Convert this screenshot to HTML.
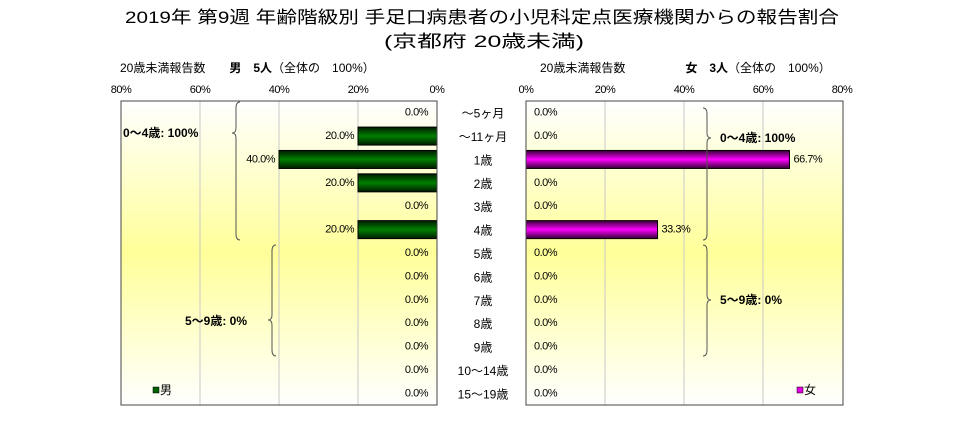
<!DOCTYPE html>
<html><head><meta charset="utf-8"><style>
body{margin:0;background:#fff}
svg{display:block;font-family:"Liberation Sans","Noto Sans CJK JP",sans-serif}
</style></head><body>
<svg id="chart" width="968" height="443" viewBox="0 0 968 443">
<defs>
<linearGradient id="bg" x1="0" y1="0" x2="0" y2="1">
<stop offset="0" stop-color="#ffffff"/><stop offset="0.5" stop-color="#ffff99"/><stop offset="1" stop-color="#ffffff"/></linearGradient>
<linearGradient id="gm" x1="0" y1="0" x2="0" y2="1">
<stop offset="0" stop-color="#001a00"/><stop offset="0.5" stop-color="#008000"/><stop offset="1" stop-color="#001a00"/></linearGradient>
<linearGradient id="gf" x1="0" y1="0" x2="0" y2="1">
<stop offset="0" stop-color="#330033"/><stop offset="0.5" stop-color="#ff00ff"/><stop offset="1" stop-color="#330033"/></linearGradient>
</defs>
<text x="482" y="23" font-size="17" text-anchor="middle" textLength="714" lengthAdjust="spacingAndGlyphs">2019年 第9週 年齢階級別 手足口病患者の小児科定点医療機関からの報告割合</text>
<text x="484" y="47" font-size="17" text-anchor="middle" textLength="200" lengthAdjust="spacingAndGlyphs">(京都府 20歳未満)</text>
<text x="120" y="72" font-size="12">20歳未満報告数　　<tspan font-weight="bold">男　5人</tspan>（全体の　100%）</text>
<text x="540" y="72" font-size="12">20歳未満報告数　　　　　<tspan font-weight="bold">女　3人</tspan>（全体の　100%）</text>
<rect x="121" y="101" width="316" height="304" fill="url(#bg)"/>
<rect x="526" y="101" width="317" height="304" fill="url(#bg)"/>
<g id="layer"></g>
<rect x="121" y="101" width="316" height="304" fill="none" stroke="#444"/>
<rect x="526" y="101" width="317" height="304" fill="none" stroke="#444"/>
<path d="M240,102 q-4,0 -4,6 v20 q0,5 -4,5 q4,0 4,5 v96 q0,6 4,6" fill="none" stroke="#555"/>
<text x="123" y="137" font-size="12" font-weight="bold">0～4歳: 100%</text>
<path d="M276,245 q-4,0 -4,6 v64 q0,5 -4,5 q4,0 4,5 v25 q0,6 4,6" fill="none" stroke="#555"/>
<text x="185" y="325" font-size="12" font-weight="bold">5～9歳: 0%</text>
<path d="M703,108 q4,0 4,6 v19 q0,5 4,5 q-4,0 -4,5 v91 q0,6 -4,6" fill="none" stroke="#555"/>
<text x="720" y="142" font-size="12" font-weight="bold">0～4歳: 100%</text>
<path d="M703,245 q4,0 4,6 v44 q0,5 4,5 q-4,0 -4,5 v45 q0,6 -4,6" fill="none" stroke="#555"/>
<text x="720" y="304" font-size="12" font-weight="bold">5～9歳: 0%</text>
<rect x="153" y="387" width="6" height="6" fill="#006000" stroke="#000" stroke-width="0.5"/>
<text x="160" y="394" font-size="12">男</text>
<rect x="797" y="387" width="6" height="6" fill="#e000e0" stroke="#000" stroke-width="0.5"/>
<text x="804" y="394" font-size="12">女</text>
</svg>
<script>
const categories = ["～5ヶ月","～11ヶ月","1歳","2歳","3歳","4歳","5歳","6歳","7歳","8歳","9歳","10～14歳","15～19歳"];
const maleValues = [0,20,40,20,0,20,0,0,0,0,0,0,0];
const femaleValues = [0,0,66.7,0,0,33.3,0,0,0,0,0,0,0];
const tickValues = [0,20,40,60,80];
const tickLabels = ["0%","20%","40%","60%","80%"];

const NS="http://www.w3.org/2000/svg";
const layer=document.getElementById('layer');
const top0=101, plotH=304, rowH=plotH/categories.length;
const pxPer=316/80;
function xMale(v){return 437 - v*pxPer;}
function xFemale(v){return 526 + v*pxPer;}
function yRow(i){return top0 + rowH*i + rowH/2;}
function mk(tag,attrs){const e=document.createElementNS(NS,tag);for(const k in attrs)e.setAttribute(k,attrs[k]);return e;}

tickValues.forEach((t,i)=>{
  if(t>0 && t<80){
    const g1=mk('line',{x1:xMale(t),x2:xMale(t),y1:101,y2:405,stroke:'#c8c8c8'});
    
    
    layer.appendChild(g1);
    const g2=mk('line',{x1:xFemale(t),x2:xFemale(t),y1:101,y2:405,stroke:'#c8c8c8'});
    
    
    layer.appendChild(g2);
  }
  const a=mk('text',{x:xMale(t),y:93,'font-size':11,'text-anchor':'middle','letter-spacing':'-0.5'});
  a.textContent=tickLabels[i];
  
  
  document.getElementById('chart').appendChild(a);
  const b=mk('text',{x:xFemale(t),y:93,'font-size':11,'text-anchor':'middle','letter-spacing':'-0.5'});
  b.textContent=tickLabels[i];
  
  
  document.getElementById('chart').appendChild(b);
});

categories.forEach((c,i)=>{
  const y=yRow(i);
  const lab=mk('text',{x:483,y:y+5,'font-size':12,'text-anchor':'middle'});
  lab.textContent=c;
  
  
  document.getElementById('chart').appendChild(lab);
  const mv=maleValues[i];
  if(mv>0){
    const r=mk('rect',{x:xMale(mv),y:y-9,width:437-xMale(mv),height:18,fill:'url(#gm)',stroke:'#000'});
    
    
    layer.appendChild(r);
  }
  const mt=mk('text',{x:mv>0?xMale(mv)-4:428,y:y+3,'font-size':11,'text-anchor':'end','letter-spacing':'-0.5'});
  mt.textContent=mv.toFixed(1)+'%';
  
  
  document.getElementById('chart').appendChild(mt);
  const fv=femaleValues[i];
  if(fv>0){
    const r=mk('rect',{x:526,y:y-9,width:xFemale(fv)-526,height:18,fill:'url(#gf)',stroke:'#000'});
    
    
    layer.appendChild(r);
  }
  const ft=mk('text',{x:fv>0?xFemale(fv)+4:534,y:y+3,'font-size':11,'letter-spacing':'-0.5'});
  ft.textContent=fv.toFixed(1)+'%';
  
  
  document.getElementById('chart').appendChild(ft);
});
</script>
</body></html>
